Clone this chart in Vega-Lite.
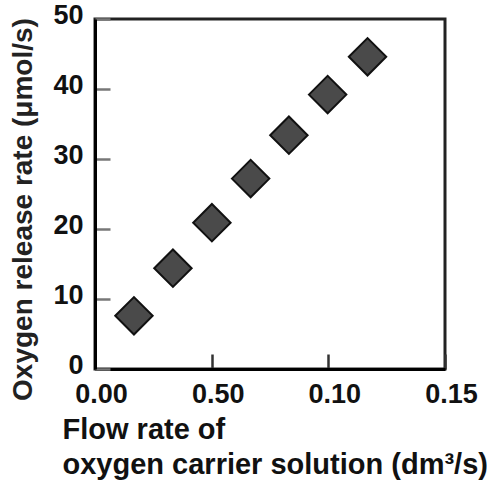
{
  "$schema": "https://vega.github.io/schema/vega-lite/v6.json",
  "width": 350,
  "height": 350,
  "autosize": "none",
  "padding": {"left": 95, "top": 19, "right": 42, "bottom": 114},
  "background": "white",
  "config": {
    "view": {"stroke": "#222", "strokeWidth": 3},
    "font": "Liberation Sans"
  },
  "data": {
    "values": [
      {"flow": 0.0167, "rate": 7.6},
      {"flow": 0.0334, "rate": 14.4},
      {"flow": 0.0501, "rate": 20.9},
      {"flow": 0.0667, "rate": 27.2},
      {"flow": 0.0831, "rate": 33.4},
      {"flow": 0.0997, "rate": 39.2},
      {"flow": 0.1168, "rate": 44.6}
    ]
  },
  "mark": {"type": "point", "shape": "diamond", "filled": true, "size": 1400, "fill": "#4a4a4a", "stroke": "#111", "strokeWidth": 2, "opacity": 1},
  "encoding": {
    "x": {
      "field": "flow",
      "type": "quantitative",
      "scale": {"domain": [0, 0.15], "nice": false, "zero": false},
      "axis": {
        "values": [0, 0.05, 0.1, 0.15],
        "labelExpr": "abs(datum.value - 0.05) < 0.001 ? '0.50' : format(datum.value, '.2f')",
        "grid": false,
        "ticks": true,
        "domainColor": "#000",
        "domainWidth": 3,
        "tickSize": -15,
        "tickWidth": 2.5,
        "tickColor": "#333",
        "labelFont": "Liberation Sans",
        "labelFontSize": 27,
        "labelFontWeight": "bold",
        "labelColor": "#111",
        "labelPadding": 27,
        "labelOffset": 6,
        "labelFlush": false,
        "labelOverlap": false,
        "title": [" Flow rate of", "oxygen carrier solution (dm³/s)"],
        "titleFont": "Liberation Sans",
        "titleFontSize": 29,
        "titleFontWeight": "bold",
        "titleColor": "#111",
        "titleAlign": "left",
        "titleAnchor": "start",
        "titleBaseline": "alphabetic",
        "titleLineHeight": 35,
        "titleX": -33,
        "titleY": 69
      }
    },
    "y": {
      "field": "rate",
      "type": "quantitative",
      "scale": {"domain": [0, 50], "nice": false, "zero": false},
      "axis": {
        "values": [0, 10, 20, 30, 40, 50],
        "grid": false,
        "ticks": true,
        "domainColor": "#000",
        "domainWidth": 3,
        "tickSize": -15,
        "tickWidth": 2.5,
        "tickColor": "#777",
        "labelFont": "Liberation Sans",
        "labelFontSize": 27,
        "labelFontWeight": "bold",
        "labelColor": "#111",
        "labelPadding": 27,
        "labelOffset": -4,
        "labelFlush": false,
        "labelOverlap": false,
        "title": "Oxygen release rate (μmol/s)",
        "titleFont": "Liberation Sans",
        "titleFontSize": 28,
        "titleFontWeight": "bold",
        "titleColor": "#222",
        "titleAngle": -90,
        "titleAlign": "center",
        "titleBaseline": "middle",
        "titleX": -72,
        "titleY": 190
      }
    }
  }
}
